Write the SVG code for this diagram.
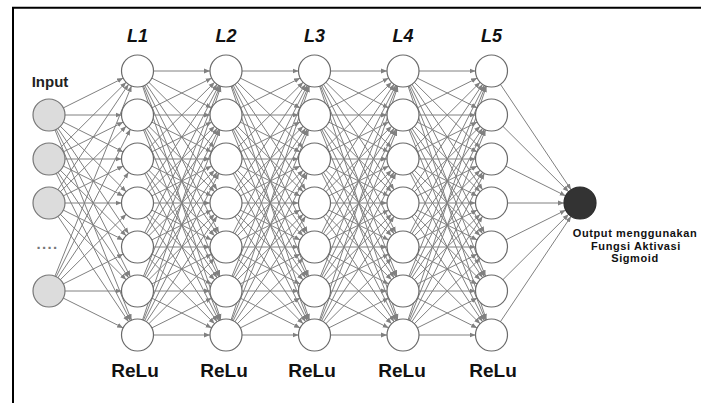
<svg xmlns="http://www.w3.org/2000/svg" xmlns:xlink="http://www.w3.org/1999/xlink" width="701" height="403" viewBox="0 0 701 403">
<style>
.c{stroke:#808080;stroke-width:1;marker-end:url(#ah)}
.n{fill:#fff;stroke:#6a6a6a;stroke-width:1.2}
.in{fill:#dcdcdc;stroke:#777;stroke-width:1.2}
.out{fill:#333;stroke:#2a2a2a;stroke-width:1.2}
.lt{font-family:"Liberation Sans",Arial,sans-serif;font-weight:bold;font-style:italic;font-size:18px;fill:#111;text-anchor:middle}
.rt{font-family:"Liberation Sans",Arial,sans-serif;font-weight:bold;font-size:19px;fill:#111;text-anchor:middle}
.it{font-family:"Liberation Sans",Arial,sans-serif;font-weight:bold;font-size:15px;fill:#222;text-anchor:middle}
.ot{font-family:"Liberation Sans",Arial,sans-serif;font-weight:bold;font-size:11px;letter-spacing:0.6px;fill:#111;text-anchor:middle}
</style>
<defs>
<marker id="ah" viewBox="0 0 22 6" refX="22" refY="3" markerWidth="22" markerHeight="6" markerUnits="userSpaceOnUse" orient="auto">
<path d="M0,0.6 L6,3 L0,5.4 z" fill="#808080"/>
</marker>
<g id="full">
<line class="c" x1="0" y1="71" x2="88.5" y2="71"/><line class="c" x1="0" y1="71" x2="88.5" y2="115"/><line class="c" x1="0" y1="71" x2="88.5" y2="159"/><line class="c" x1="0" y1="71" x2="88.5" y2="203"/><line class="c" x1="0" y1="71" x2="88.5" y2="247"/><line class="c" x1="0" y1="71" x2="88.5" y2="291"/><line class="c" x1="0" y1="71" x2="88.5" y2="335"/>
<line class="c" x1="0" y1="115" x2="88.5" y2="71"/><line class="c" x1="0" y1="115" x2="88.5" y2="115"/><line class="c" x1="0" y1="115" x2="88.5" y2="159"/><line class="c" x1="0" y1="115" x2="88.5" y2="203"/><line class="c" x1="0" y1="115" x2="88.5" y2="247"/><line class="c" x1="0" y1="115" x2="88.5" y2="291"/><line class="c" x1="0" y1="115" x2="88.5" y2="335"/>
<line class="c" x1="0" y1="159" x2="88.5" y2="71"/><line class="c" x1="0" y1="159" x2="88.5" y2="115"/><line class="c" x1="0" y1="159" x2="88.5" y2="159"/><line class="c" x1="0" y1="159" x2="88.5" y2="203"/><line class="c" x1="0" y1="159" x2="88.5" y2="247"/><line class="c" x1="0" y1="159" x2="88.5" y2="291"/><line class="c" x1="0" y1="159" x2="88.5" y2="335"/>
<line class="c" x1="0" y1="203" x2="88.5" y2="71"/><line class="c" x1="0" y1="203" x2="88.5" y2="115"/><line class="c" x1="0" y1="203" x2="88.5" y2="159"/><line class="c" x1="0" y1="203" x2="88.5" y2="203"/><line class="c" x1="0" y1="203" x2="88.5" y2="247"/><line class="c" x1="0" y1="203" x2="88.5" y2="291"/><line class="c" x1="0" y1="203" x2="88.5" y2="335"/>
<line class="c" x1="0" y1="247" x2="88.5" y2="71"/><line class="c" x1="0" y1="247" x2="88.5" y2="115"/><line class="c" x1="0" y1="247" x2="88.5" y2="159"/><line class="c" x1="0" y1="247" x2="88.5" y2="203"/><line class="c" x1="0" y1="247" x2="88.5" y2="247"/><line class="c" x1="0" y1="247" x2="88.5" y2="291"/><line class="c" x1="0" y1="247" x2="88.5" y2="335"/>
<line class="c" x1="0" y1="291" x2="88.5" y2="71"/><line class="c" x1="0" y1="291" x2="88.5" y2="115"/><line class="c" x1="0" y1="291" x2="88.5" y2="159"/><line class="c" x1="0" y1="291" x2="88.5" y2="203"/><line class="c" x1="0" y1="291" x2="88.5" y2="247"/><line class="c" x1="0" y1="291" x2="88.5" y2="291"/><line class="c" x1="0" y1="291" x2="88.5" y2="335"/>
<line class="c" x1="0" y1="335" x2="88.5" y2="71"/><line class="c" x1="0" y1="335" x2="88.5" y2="115"/><line class="c" x1="0" y1="335" x2="88.5" y2="159"/><line class="c" x1="0" y1="335" x2="88.5" y2="203"/><line class="c" x1="0" y1="335" x2="88.5" y2="247"/><line class="c" x1="0" y1="335" x2="88.5" y2="291"/><line class="c" x1="0" y1="335" x2="88.5" y2="335"/>
</g>
</defs>
<rect width="701" height="403" fill="#fff"/>
<path d="M13,403 V7.8 H701" fill="none" stroke="#000" stroke-width="2"/>
<g id="connectors">
<g id="input-l1">
<line class="c" x1="49" y1="115" x2="137.5" y2="71"/><line class="c" x1="49" y1="115" x2="137.5" y2="115"/><line class="c" x1="49" y1="115" x2="137.5" y2="159"/><line class="c" x1="49" y1="115" x2="137.5" y2="203"/><line class="c" x1="49" y1="115" x2="137.5" y2="247"/><line class="c" x1="49" y1="115" x2="137.5" y2="291"/><line class="c" x1="49" y1="115" x2="137.5" y2="335"/>
<line class="c" x1="49" y1="159" x2="137.5" y2="71"/><line class="c" x1="49" y1="159" x2="137.5" y2="115"/><line class="c" x1="49" y1="159" x2="137.5" y2="159"/><line class="c" x1="49" y1="159" x2="137.5" y2="203"/><line class="c" x1="49" y1="159" x2="137.5" y2="247"/><line class="c" x1="49" y1="159" x2="137.5" y2="291"/><line class="c" x1="49" y1="159" x2="137.5" y2="335"/>
<line class="c" x1="49" y1="203" x2="137.5" y2="71"/><line class="c" x1="49" y1="203" x2="137.5" y2="115"/><line class="c" x1="49" y1="203" x2="137.5" y2="159"/><line class="c" x1="49" y1="203" x2="137.5" y2="203"/><line class="c" x1="49" y1="203" x2="137.5" y2="247"/><line class="c" x1="49" y1="203" x2="137.5" y2="291"/><line class="c" x1="49" y1="203" x2="137.5" y2="335"/>
<line class="c" x1="49" y1="291" x2="137.5" y2="71"/><line class="c" x1="49" y1="291" x2="137.5" y2="115"/><line class="c" x1="49" y1="291" x2="137.5" y2="159"/><line class="c" x1="49" y1="291" x2="137.5" y2="203"/><line class="c" x1="49" y1="291" x2="137.5" y2="247"/><line class="c" x1="49" y1="291" x2="137.5" y2="291"/><line class="c" x1="49" y1="291" x2="137.5" y2="335"/>
</g>
<use xlink:href="#full" href="#full" x="137.5"/>
<use xlink:href="#full" href="#full" x="226"/>
<use xlink:href="#full" href="#full" x="314.5"/>
<use xlink:href="#full" href="#full" x="403"/>
<g id="l5-out">
<line class="c" x1="491.5" y1="71" x2="580" y2="203"/><line class="c" x1="491.5" y1="115" x2="580" y2="203"/><line class="c" x1="491.5" y1="159" x2="580" y2="203"/><line class="c" x1="491.5" y1="203" x2="580" y2="203"/><line class="c" x1="491.5" y1="247" x2="580" y2="203"/><line class="c" x1="491.5" y1="291" x2="580" y2="203"/><line class="c" x1="491.5" y1="335" x2="580" y2="203"/>
</g>
</g>
<g id="input">
<text class="it" x="50" y="87">Input</text>
<circle class="in" cx="49" cy="115" r="16"/>
<circle class="in" cx="49" cy="159" r="16"/>
<circle class="in" cx="49" cy="203" r="16"/>
<text x="47.5" y="249" font-family="Liberation Sans, Arial, sans-serif" font-weight="bold" font-size="15" letter-spacing="1.3" fill="#777" text-anchor="middle">....</text>
<circle class="in" cx="49" cy="291" r="16"/>
</g>
<g id="L1">
<text class="lt" x="137.5" y="42">L1</text>
<circle class="n" cx="137.5" cy="71" r="16"/><circle class="n" cx="137.5" cy="115" r="16"/><circle class="n" cx="137.5" cy="159" r="16"/><circle class="n" cx="137.5" cy="203" r="16"/><circle class="n" cx="137.5" cy="247" r="16"/><circle class="n" cx="137.5" cy="291" r="16"/><circle class="n" cx="137.5" cy="335" r="16"/>
<text class="rt" x="135" y="377">ReLu</text>
</g>
<g id="L2">
<text class="lt" x="226" y="42">L2</text>
<circle class="n" cx="226" cy="71" r="16"/><circle class="n" cx="226" cy="115" r="16"/><circle class="n" cx="226" cy="159" r="16"/><circle class="n" cx="226" cy="203" r="16"/><circle class="n" cx="226" cy="247" r="16"/><circle class="n" cx="226" cy="291" r="16"/><circle class="n" cx="226" cy="335" r="16"/>
<text class="rt" x="224" y="377">ReLu</text>
</g>
<g id="L3">
<text class="lt" x="314.5" y="42">L3</text>
<circle class="n" cx="314.5" cy="71" r="16"/><circle class="n" cx="314.5" cy="115" r="16"/><circle class="n" cx="314.5" cy="159" r="16"/><circle class="n" cx="314.5" cy="203" r="16"/><circle class="n" cx="314.5" cy="247" r="16"/><circle class="n" cx="314.5" cy="291" r="16"/><circle class="n" cx="314.5" cy="335" r="16"/>
<text class="rt" x="312" y="377">ReLu</text>
</g>
<g id="L4">
<text class="lt" x="403" y="42">L4</text>
<circle class="n" cx="403" cy="71" r="16"/><circle class="n" cx="403" cy="115" r="16"/><circle class="n" cx="403" cy="159" r="16"/><circle class="n" cx="403" cy="203" r="16"/><circle class="n" cx="403" cy="247" r="16"/><circle class="n" cx="403" cy="291" r="16"/><circle class="n" cx="403" cy="335" r="16"/>
<text class="rt" x="402" y="377">ReLu</text>
</g>
<g id="L5">
<text class="lt" x="491.5" y="42">L5</text>
<circle class="n" cx="491.5" cy="71" r="16"/><circle class="n" cx="491.5" cy="115" r="16"/><circle class="n" cx="491.5" cy="159" r="16"/><circle class="n" cx="491.5" cy="203" r="16"/><circle class="n" cx="491.5" cy="247" r="16"/><circle class="n" cx="491.5" cy="291" r="16"/><circle class="n" cx="491.5" cy="335" r="16"/>
<text class="rt" x="493" y="377">ReLu</text>
</g>
<g id="output">
<circle class="out" cx="580" cy="203" r="16"/>
<text class="ot" x="635" y="237">Output menggunakan</text>
<text class="ot" x="636" y="249.5">Fungsi Aktivasi</text>
<text class="ot" x="635" y="262">Sigmoid</text>
</g>
</svg>
